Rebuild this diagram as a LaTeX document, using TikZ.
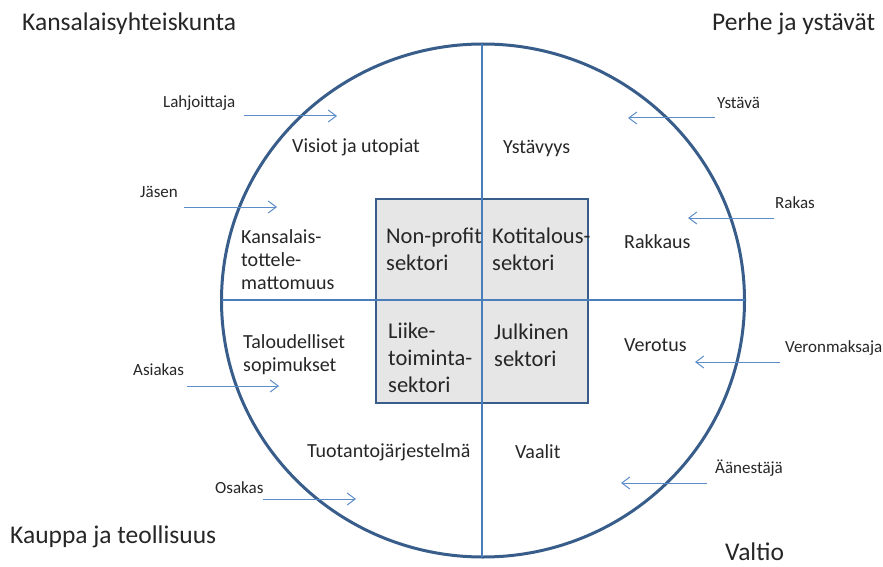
\documentclass[tikz,border=0pt]{standalone}
\usepackage{fontspec}
\setmainfont{Carlito}
\usetikzlibrary{arrows.meta,shapes.geometric}
\definecolor{circblue}{HTML}{385D8A}
\definecolor{lineblue}{HTML}{4A7EBB}
\definecolor{arrblue}{HTML}{5B8CC8}
\definecolor{boxfill}{HTML}{E6E6E6}
\definecolor{txt}{HTML}{262626}
\begin{document}
\begin{tikzpicture}[x=1pt,y=-1pt,
  every node/.style={text=txt,inner sep=0pt},
  corner/.style={anchor=west,font=\fontsize{25.5}{30}\selectfont},
  inner/.style={anchor=west,align=left,font=\fontsize{20}{23}\selectfont},
  boxtxt/.style={anchor=west,align=left,font=\fontsize{22.5}{27}\selectfont},
  small/.style={anchor=west,font=\fontsize{17}{20}\selectfont},
  axis/.style={draw=lineblue,line width=1.8pt},
  flow/.style={draw=arrblue,line width=1pt,-{Straight Barb[length=8pt,width=12pt,line width=1pt]}}]
\useasboundingbox (0,0) rectangle (883,567);
% circle
\node[ellipse,draw=circblue,line width=3pt,minimum width=523pt,minimum height=513pt] (circ) at (483,300.5) {};
% central box
\node[rectangle,draw=circblue,fill=boxfill,line width=2.6pt,minimum width=212pt,minimum height=204pt] (box) at (482,301) {};
% axes
\coordinate (top) at (482,44);
\coordinate (bot) at (482,557);
\coordinate (lft) at (222,300);
\coordinate (rgt) at (745,300);
\draw[axis] (top) -- (bot);
\draw[axis] (lft) -- (rgt);
% corner labels
\node[corner] (kans) at (22,24) {Kansalaisyhteiskunta};
\node[corner] (perhe) at (712,24) {Perhe ja ystävät};
\node[corner] (kauppa) at (10,537) {Kauppa ja teollisuus};
\node[corner] (valtio) at (725,552) {Valtio};
% inner labels
\node[inner] (visiot) at (292,147) {Visiot ja utopiat};
\node[inner] (ystavyys) at (503,148) {Ystävyys};
\node[inner] (kt) at (241,260) {Kansalais-\\tottele-\\mattomuus};
\node[inner] (rakkaus) at (624,242) {Rakkaus};
\node[inner] (talous) at (243,355) {Taloudelliset\\sopimukset};
\node[inner] (verotus) at (624,345) {Verotus};
\node[inner] (tuot) at (307,452) {Tuotantojärjestelmä};
\node[inner] (vaalit) at (515,452) {Vaalit};
% box labels
\node[boxtxt] (np) at (386,249) {Non-profit\\sektori};
\node[boxtxt] (kot) at (492,249) {Kotitalous-\\sektori};
\node[boxtxt] (lii) at (388,358) {Liike-\\toiminta-\\sektori};
\node[boxtxt] (jul) at (494,345) {Julkinen\\sektori};
% actors and arrows
\node[small] (lahj) at (163,103) {Lahjoittaja};
\coordinate (a1s) at (244,116); \coordinate (a1e) at (337,116);
\draw[flow] (a1s) -- (a1e);
\node[small] (ystava) at (717,103) {Ystävä};
\coordinate (a2s) at (715,118); \coordinate (a2e) at (628,118);
\draw[flow] (a2s) -- (a2e);
\node[small] (jasen) at (140,192) {Jäsen};
\coordinate (a3s) at (184,207); \coordinate (a3e) at (277,207);
\draw[flow] (a3s) -- (a3e);
\node[small] (rakas) at (775,203) {Rakas};
\coordinate (a4s) at (774,218); \coordinate (a4e) at (688,218);
\draw[flow] (a4s) -- (a4e);
\node[small] (asiakas) at (133,370) {Asiakas};
\coordinate (a5s) at (187,386); \coordinate (a5e) at (279,386);
\draw[flow] (a5s) -- (a5e);
\node[small] (veron) at (785,348) {Veronmaksaja};
\coordinate (a6s) at (780,362); \coordinate (a6e) at (695,362);
\draw[flow] (a6s) -- (a6e);
\node[small] (osakas) at (215,488) {Osakas};
\coordinate (a7s) at (263,499); \coordinate (a7e) at (356,499);
\draw[flow] (a7s) -- (a7e);
\node[small] (aan) at (715,468) {Äänestäjä};
\coordinate (a8s) at (707,483); \coordinate (a8e) at (621,483);
\draw[flow] (a8s) -- (a8e);
\end{tikzpicture}
\end{document}
